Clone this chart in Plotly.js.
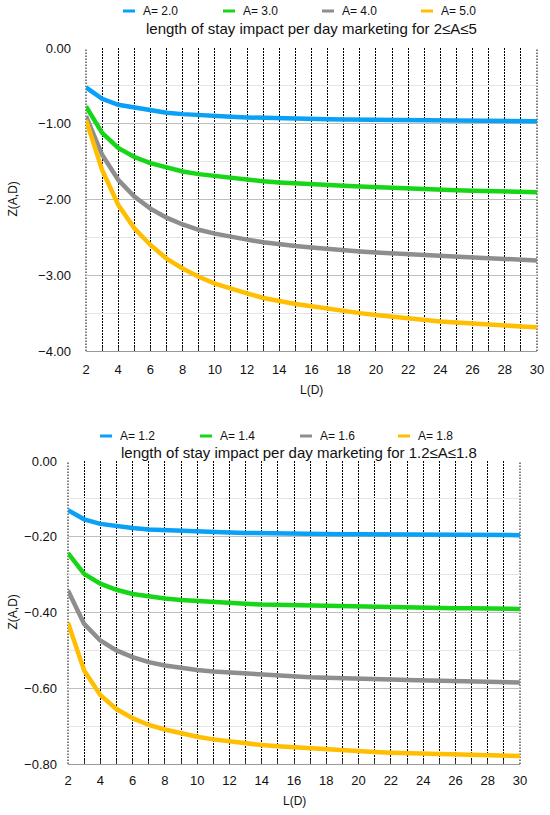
<!DOCTYPE html>
<html><head><meta charset="utf-8">
<script src="https://cdn.plot.ly/plotly-3.0.1.min.js"></script>
<style>html,body{margin:0;padding:0;background:#fff;} #top{width:550px;height:407px;} #bot{width:550px;height:408px;}</style>
</head><body><div id="top"></div><div id="bot"></div>
<script>
const L = [2,3,4,5,6,7,8,9,10,11,12,13,14,15,16,17,18,19,20,21,22,23,24,25,26,27,28,29,30];

const topNames = ["A= 2.0","A= 3.0","A= 4.0","A= 5.0"];
const topTitle = "length of stay impact per day marketing for 2≤A≤5";
const zA20 = [-0.52,-0.67,-0.75,-0.79,-0.83,-0.855,-0.873,-0.888,-0.90,-0.909,-0.917,-0.924,-0.93,-0.934,-0.937,-0.941,-0.944,-0.947,-0.95,-0.952,-0.954,-0.956,-0.958,-0.96,-0.962,-0.963,-0.965,-0.966,-0.968];
const zA30 = [-0.77,-1.12,-1.32,-1.44,-1.52,-1.58,-1.63,-1.665,-1.69,-1.715,-1.74,-1.76,-1.775,-1.79,-1.80,-1.81,-1.82,-1.83,-1.84,-1.848,-1.856,-1.864,-1.87,-1.877,-1.883,-1.889,-1.894,-1.90,-1.905];
const zA40 = [-0.90,-1.41,-1.74,-1.96,-2.12,-2.24,-2.33,-2.40,-2.45,-2.495,-2.53,-2.565,-2.595,-2.615,-2.635,-2.655,-2.67,-2.685,-2.70,-2.713,-2.725,-2.737,-2.748,-2.758,-2.767,-2.776,-2.785,-2.795,-2.805];
const zA50 = [-0.95,-1.61,-2.07,-2.38,-2.60,-2.78,-2.91,-3.02,-3.11,-3.18,-3.24,-3.30,-3.345,-3.38,-3.41,-3.445,-3.47,-3.50,-3.525,-3.55,-3.57,-3.59,-3.61,-3.625,-3.64,-3.652,-3.664,-3.675,-3.685];

const botNames = ["A= 1.2","A= 1.4","A= 1.6","A= 1.8"];
const botTitle = "length of stay impact per day marketing for 1.2≤A≤1.8";
const zA12 = [-0.130,-0.154,-0.166,-0.172,-0.177,-0.181,-0.183,-0.185,-0.187,-0.188,-0.189,-0.190,-0.191,-0.1915,-0.192,-0.1925,-0.193,-0.1933,-0.1936,-0.194,-0.1942,-0.1944,-0.1946,-0.1948,-0.195,-0.1952,-0.1954,-0.1956,-0.1958];
const zA14 = [-0.243,-0.298,-0.324,-0.340,-0.351,-0.358,-0.363,-0.367,-0.370,-0.373,-0.375,-0.377,-0.379,-0.380,-0.381,-0.382,-0.383,-0.384,-0.385,-0.386,-0.3865,-0.387,-0.3875,-0.388,-0.3885,-0.389,-0.3895,-0.390,-0.3905];
const zA16 = [-0.342,-0.430,-0.474,-0.500,-0.518,-0.531,-0.540,-0.547,-0.552,-0.556,-0.559,-0.562,-0.565,-0.567,-0.569,-0.571,-0.572,-0.574,-0.575,-0.576,-0.577,-0.578,-0.579,-0.580,-0.581,-0.582,-0.583,-0.584,-0.585];
const zA18 = [-0.427,-0.553,-0.618,-0.655,-0.679,-0.697,-0.709,-0.719,-0.728,-0.735,-0.741,-0.746,-0.750,-0.753,-0.756,-0.759,-0.762,-0.764,-0.766,-0.768,-0.770,-0.771,-0.773,-0.774,-0.775,-0.776,-0.777,-0.778,-0.779];

const xTitle = "L(D)";
const yTitle = "Z(A,D)";
const colors = ["#0AA0F5","#17D617","#8E8E8E","#FFBE00"];
const FONT = "Helvetica, 'Liberation Sans', Arial, sans-serif";
const DOTS = '1.5px,1.5px';
const DOTW = 1;

function build(id, H, m, series, names, title, yrange, dtick, mdtick, opt) {
  const W = 550;
  const pw = W - m.l - m.r, ph = H - m.t - m.b;
  const px = x => (x - m.l) / pw;
  const py = y => (H - m.b - y) / ph;
  const traces = series.map((s, i) => ({
    x: L, y: s, type: 'scatter', mode: 'lines', name: names[i],
    line: {color: colors[i], width: 4.5}, showlegend: false, hoverinfo: 'skip'
  }));
  const shapes = [
    {type: 'line', xref: 'paper', yref: 'paper', x0: 0, x1: 0, y0: 0, y1: 1, layer: 'below', line: {color: '#000', width: DOTW, dash: DOTS}},
    {type: 'line', xref: 'paper', yref: 'paper', x0: 1, x1: 1, y0: 0, y1: 1, layer: 'below', line: {color: '#000', width: DOTW, dash: DOTS}}
  ];
  const ann = [];
  names.forEach((n, i) => {
    const x0 = opt.legX[i];
    shapes.push({type: 'line', xref: 'paper', yref: 'paper', x0: px(x0), x1: px(x0 + 12),
      y0: py(opt.legY), y1: py(opt.legY), line: {color: colors[i], width: 3}});
    ann.push({xref: 'paper', yref: 'paper', x: px(x0 + 18), y: py(opt.legY), text: n,
      showarrow: false, xanchor: 'left', yanchor: 'middle', font: {size: 12, color: '#111', family: FONT}});
  });
  ann.push({xref: 'paper', yref: 'paper', x: px(opt.titleX), y: py(opt.titleY), text: title,
    showarrow: false, xanchor: 'center', yanchor: 'middle', font: {size: 15, color: '#111', family: FONT}});
  ann.push({xref: 'paper', yref: 'paper', x: 0.5, y: py(opt.xtY), text: xTitle,
    showarrow: false, xanchor: 'center', yanchor: 'middle', font: {size: 12, color: '#111', family: FONT}});
  ann.push({xref: 'paper', yref: 'paper', x: px(12), y: 0.5, text: yTitle, textangle: -90,
    showarrow: false, xanchor: 'center', yanchor: 'middle', font: {size: 12, color: '#111', family: FONT}});
  const layout = {
    width: W, height: H, margin: m, paper_bgcolor: '#fff', plot_bgcolor: '#fff',
    font: {family: FONT, size: 13, color: '#111'},
    showlegend: false,
    xaxis: {range: [2, 30], dtick: 2, tick0: 2, showgrid: true, gridcolor: '#000', griddash: DOTS, gridwidth: DOTW,
      ticks: 'inside', ticklen: 4, tickcolor: '#333', showline: true, linecolor: '#999', linewidth: 1, mirror: false,
      zeroline: false, ticklabelstandoff: opt.xStand, tickfont: {size: 13},
      minor: {dtick: 1, tick0: 2, showgrid: true, gridcolor: '#000', griddash: DOTS, gridwidth: DOTW, ticks: 'inside', ticklen: 4, tickcolor: '#333'}},
    yaxis: {range: yrange, dtick: dtick, tickformat: '.2f', showgrid: true, gridcolor: '#bdbdbd', gridwidth: 1,
      zeroline: false, showline: false, ticks: '', ticklabelstandoff: opt.yStand, tickfont: {size: 13},
      minor: {dtick: mdtick, showgrid: true, gridcolor: '#e4e4e4', gridwidth: 1}},
    shapes: shapes, annotations: ann
  };
  Plotly.newPlot(id, traces, layout, {staticPlot: true, displayModeBar: false});
}

build('top', 407, {l: 86, r: 13, t: 48, b: 56, pad: 0}, [zA20, zA30, zA40, zA50], topNames, topTitle,
  [-4, 0], 1, 0.5,
  {legX: [123, 223, 322, 421], legY: 11, titleX: 311, titleY: 28, xtY: 390, xStand: 6, yStand: 14});
build('bot', 408, {l: 68, r: 30, t: 54, b: 51, pad: 0}, [zA12, zA14, zA16, zA18], botNames, botTitle,
  [-0.8, 0], 0.2, 0.1,
  {legX: [100, 200, 300, 398], legY: 29, titleX: 299, titleY: 46, xtY: 394, xStand: 4, yStand: 10});
</script>
</body></html>
